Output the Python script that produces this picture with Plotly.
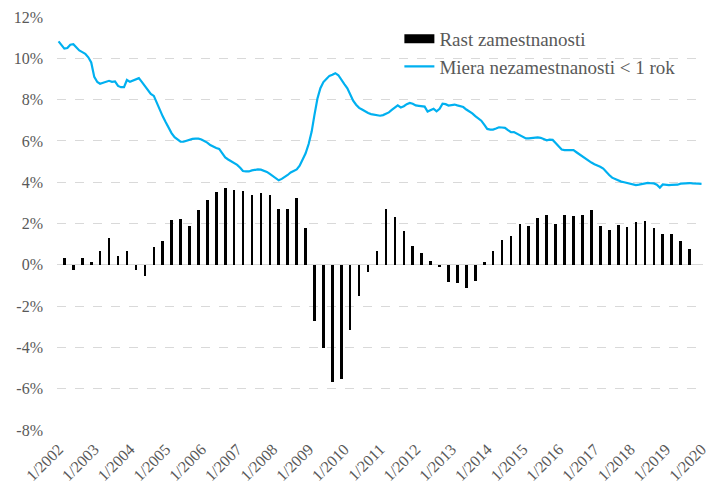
import plotly.graph_objects as go
import pandas as pd

# ─── Data ────────────────────────────────────────────────────────────────
# Rast zamestnanosti, quarterly, 2002Q1 .. 2019Q3 (% y/y)
EMP_GROWTH = [
    0.32, -0.24, 0.35, 0.16, 0.68, 1.29, 0.42, 0.68, -0.26, -0.52,
    0.84, 1.16, 2.16, 2.24, 1.87, 2.64, 3.14, 3.51, 3.72, 3.61,
    3.59, 3.38, 3.48, 3.38, 2.69, 2.69, 3.22, 1.76, -2.71, -4.03,
    -5.67, -5.52, -3.16, -1.53, -0.37, 0.66, 2.72, 2.30, 1.64, 0.90,
    0.56, 0.18, -0.13, -0.82, -0.89, -1.14, -0.79, 0.13, 0.66, 1.19,
    1.40, 2.00, 1.88, 2.26, 2.40, 1.98, 2.40, 2.37, 2.40, 2.64,
    1.87, 1.67, 1.95, 1.82, 2.06, 2.13, 1.76, 1.51, 1.51, 1.16, 0.77,
]

# Miera nezamestnanosti < 1 rok, monthly, 1/2002 .. 1/2020 (%)
SHORT_UNEMP = [
    10.82, 10.65, 10.47, 10.50, 10.66, 10.68, 10.55, 10.38, 10.30, 10.22, 10.05, 9.80,   # 2002
    9.10, 8.85, 8.77, 8.82, 8.88, 8.91, 8.86, 8.88, 8.66, 8.60, 8.60, 8.95,              # 2003
    8.86, 8.91, 8.96, 9.04, 8.86, 8.65, 8.48, 8.28, 8.18, 7.85, 7.45, 7.19,              # 2004
    6.90, 6.62, 6.38, 6.18, 6.06, 5.96, 5.96, 6.02, 6.07, 6.10, 6.11, 6.11,              # 2005
    6.07, 6.00, 5.92, 5.80, 5.72, 5.66, 5.61, 5.43, 5.20, 5.10, 5.01, 4.92,              # 2006
    4.84, 4.70, 4.54, 4.52, 4.52, 4.57, 4.61, 4.62, 4.61, 4.56, 4.50, 4.40,              # 2007
    4.28, 4.16, 4.09, 4.16, 4.24, 4.35, 4.47, 4.56, 4.62, 4.80, 5.10, 5.40,              # 2008
    5.85, 6.45, 7.25, 8.05, 8.55, 8.85, 9.00, 9.15, 9.20, 9.28, 9.18, 8.95,              # 2009
    8.75, 8.55, 8.25, 7.95, 7.75, 7.60, 7.52, 7.42, 7.35, 7.30, 7.27, 7.23,              # 2010
    7.22, 7.25, 7.30, 7.38, 7.50, 7.60, 7.72, 7.62, 7.68, 7.78, 7.84, 7.80,              # 2011
    7.72, 7.70, 7.68, 7.66, 7.42, 7.48, 7.56, 7.43, 7.55, 7.80, 7.78, 7.71,              # 2012
    7.73, 7.76, 7.72, 7.68, 7.64, 7.52, 7.43, 7.33, 7.20, 7.10, 6.98, 6.79,              # 2013
    6.58, 6.55, 6.55, 6.60, 6.66, 6.65, 6.63, 6.52, 6.42, 6.43, 6.35, 6.26,              # 2014
    6.20, 6.12, 6.12, 6.14, 6.16, 6.17, 6.15, 6.10, 6.03, 6.06, 6.05, 5.90,              # 2015
    5.75, 5.58, 5.55, 5.56, 5.55, 5.55, 5.45, 5.34, 5.25, 5.15, 5.05, 4.95,              # 2016
    4.87, 4.82, 4.75, 4.66, 4.48, 4.35, 4.22, 4.15, 4.07, 4.03, 4.00, 3.97,              # 2017
    3.94, 3.88, 3.86, 3.88, 3.92, 3.96, 3.97, 3.95, 3.94, 3.88, 3.74, 3.89,              # 2018
    3.87, 3.86, 3.87, 3.86, 3.88, 3.93, 3.95, 3.97, 3.96, 3.94, 3.95, 3.93,              # 2019
    3.92,                                                                                 # 2020
]

Y_TICKS = [-8, -6, -4, -2, 0, 2, 4, 6, 8, 10, 12]
X_TICK_YEARS = list(range(2002, 2021))

# ─── Style ───────────────────────────────────────────────────────────────
LINE_COLOR = "#00B0F0"
BAR_COLOR = "#000000"
GRID_COLOR = "#D9D9D9"
TEXT_COLOR = "#595959"
FONT = "Liberation Serif"

quarters = pd.date_range("2002-03-01", periods=len(EMP_GROWTH), freq="3MS")
months = pd.date_range("2002-01-01", periods=len(SHORT_UNEMP), freq="MS")
tick_dates = [pd.Timestamp(f"{y}-01-01") for y in X_TICK_YEARS]

fig = go.Figure()

# bars — thin black columns
fig.add_trace(go.Bar(
    x=quarters, y=EMP_GROWTH,
    name="Rast zamestnanosti",
    marker=dict(color=BAR_COLOR, line_width=0),
    width=27 * 24 * 3600 * 1000,
    showlegend=False,
    hovertemplate="%{x|%m/%Y}: %{y:.2f}%<extra></extra>",
))

# legend stand-in for the bars (wide black swatch like the original)
fig.add_trace(go.Scatter(
    x=[None], y=[None],
    name="Rast zamestnanosti",
    mode="lines",
    line=dict(color=BAR_COLOR, width=9),
))

fig.add_trace(go.Scatter(
    x=months, y=SHORT_UNEMP,
    name="Miera nezamestnanosti < 1 rok",
    mode="lines",
    line=dict(color=LINE_COLOR, width=2.2),
    hovertemplate="%{x|%m/%Y}: %{y:.2f}%<extra></extra>",
))

fig.update_layout(
    template="none",
    width=710, height=491,
    paper_bgcolor="white",
    plot_bgcolor="white",
    font=dict(family=FONT, color=TEXT_COLOR, size=15),
    margin=dict(l=57, r=7, t=17, b=61),
    bargap=0,
    legend=dict(
        x=0.53, y=0.993, xanchor="left", yanchor="top",
        bgcolor="rgba(0,0,0,0)",
        font=dict(family=FONT, size=19, color=TEXT_COLOR),
        itemwidth=30,
        tracegroupgap=0,
    ),
    xaxis=dict(
        type="date",
        range=["2001-12-16", "2020-01-16"],
        tickvals=tick_dates,
        ticktext=[f"1/{y}" for y in X_TICK_YEARS],
        tickangle=-45,
        showgrid=False,
        zeroline=False,
        showline=False,
        ticks="",
        ticklabelstandoff=6,
        ticklabeloverflow="allow",
        tickfont=dict(size=16),
        automargin=False,
    ),
    yaxis=dict(
        range=[-8, 12],
        tickvals=Y_TICKS,
        ticktext=[f"{v}%" for v in Y_TICKS],
        showgrid=True,
        gridcolor=GRID_COLOR,
        griddash="dash",
        gridwidth=1,
        zeroline=True,
        zerolinecolor=GRID_COLOR,
        zerolinewidth=1,
        showline=False,
        ticks="",
        ticklabelstandoff=13,
        tickfont=dict(size=16),
        automargin=False,
    ),
)

# drop the default 8px body margin so the figure sits at the page origin
fig.write_html(
    "out.html",
    config={"displayModeBar": False},
    post_script="document.body.style.margin='0';",
)
